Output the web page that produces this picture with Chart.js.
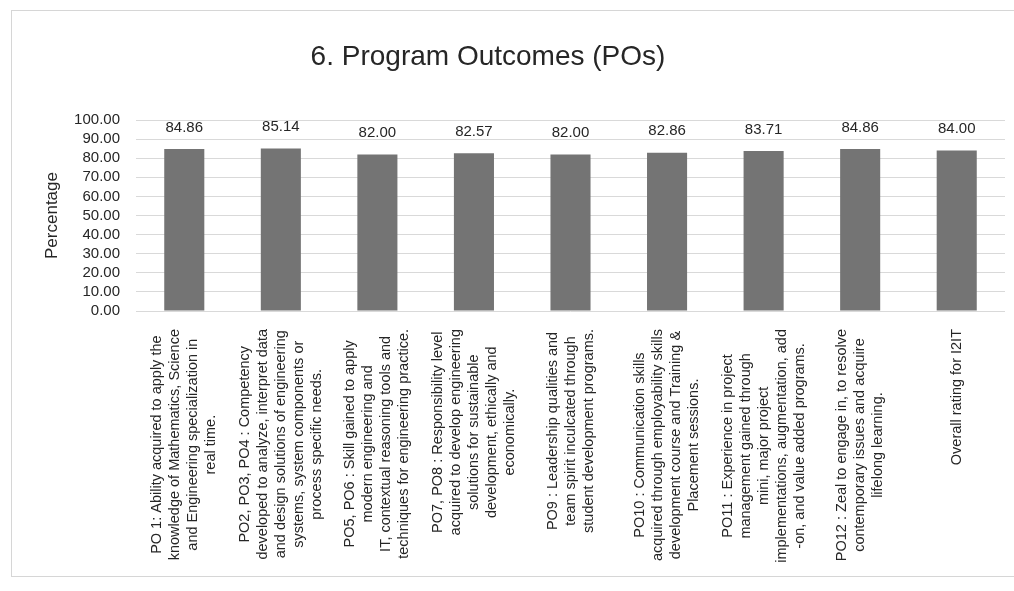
<!DOCTYPE html>
<html>
<head>
<meta charset="utf-8">
<title>6. Program Outcomes (POs)</title>
<script src="https://cdn.jsdelivr.net/npm/chart.js@4"></script>
<style>
    html, body { margin: 0; padding: 0; background: #ffffff; }
    #wrap { position: relative; width: 1014px; height: 591px; overflow: hidden; }
    #frame {
        position: absolute; left: 11px; top: 10px; width: 1010px; height: 567px;
        border: 1px solid #d6d6d6; box-sizing: border-box;
    }
    #chart-title {
        position: absolute; left: 0; top: 39px; width: 976px; text-align: center;
        font: 28px "Liberation Sans", Arial, sans-serif; color: #262626; line-height: 34px;
    }
    canvas { position: absolute; left: 0; top: 0; }
</style>
</head>
<body>
<div id="wrap">
    <div id="frame"></div>
    <canvas id="po-chart" width="1014" height="591"></canvas>
    <div id="chart-title">6. Program Outcomes (POs)</div>
</div>
<script>
// ============================================
// DATA
// ============================================
const categories = [
    ['PO 1: Ability acquired to apply the', 'knowledge of Mathematics, Science', 'and Engineering specialization in', 'real time.'],
    ['PO2, PO3, PO4 : Competency', 'developed to analyze, interpret data', 'and design solutions of engineering', 'systems, system components or', 'process specific needs.'],
    ['PO5, PO6 : Skill gained to apply', 'modern engineering and', 'IT, contextual reasoning tools and', 'techniques for engineering practice.'],
    ['PO7, PO8 : Responsibility level', 'acquired to develop engineering', 'solutions for sustainable', 'development, ethically and', 'economically.'],
    ['PO9 : Leadership qualities and', 'team spirit inculcated through', 'student development programs.'],
    ['PO10 : Communication skills', 'acquired through employability skills', 'development course and Training &', 'Placement sessions.'],
    ['PO11 : Experience in project', 'management gained through', 'mini, major project', 'implementations, augmentation, add', '-on, and value added programs.'],
    ['PO12 : Zeal to engage in, to resolve', 'contemporary issues and acquire', 'lifelong learning.'],
    ['Overall rating for I2IT']
];

const percentages = [84.86, 85.14, 82.00, 82.57, 82.00, 82.86, 83.71, 84.86, 84.00];

const yMin = 0;
const yMax = 100;
const yStep = 10;
const yAxisTitle = 'Percentage';

// ============================================
// STYLE
// ============================================
const FONT_FAMILY = '"Liberation Sans", Arial, sans-serif';
const TEXT_COLOR = '#262626';
const BAR_COLOR = '#747474';
const GRID_COLOR = '#d9d9d9';

// draws the value above each bar
const valueLabels = {
    id: 'valueLabels',
    afterDatasetsDraw(chart) {
        const ctx = chart.ctx;
        const meta = chart.getDatasetMeta(0);
        ctx.save();
        ctx.font = '15px ' + FONT_FAMILY;
        ctx.fillStyle = TEXT_COLOR;
        ctx.textAlign = 'center';
        ctx.textBaseline = 'bottom';
        meta.data.forEach((bar, i) => {
            const v = chart.data.datasets[0].data[i];
            ctx.fillText(v.toFixed(2), bar.x, bar.y - 14);
        });
        ctx.restore();
    }
};

// vertical category labels, lines centred on each other, block top-aligned under the axis
const verticalLabels = {
    id: 'verticalLabels',
    afterDraw(chart) {
        const ctx = chart.ctx;
        const xScale = chart.scales.x;
        const lineHeight = 18;
        const topGap = 18;
        ctx.save();
        ctx.font = '14.5px ' + FONT_FAMILY;
        ctx.fillStyle = TEXT_COLOR;
        ctx.textAlign = 'center';
        ctx.textBaseline = 'middle';
        chart.data.labels.forEach((lines, i) => {
            const x = xScale.getPixelForTick(i);
            const maxW = Math.max(...lines.map(l => ctx.measureText(l).width));
            ctx.save();
            ctx.translate(x, xScale.top + topGap + maxW / 2);
            ctx.rotate(-Math.PI / 2);
            lines.forEach((line, j) => {
                ctx.fillText(line, 0, (j - (lines.length - 1) / 2) * lineHeight);
            });
            ctx.restore();
        });
        ctx.restore();
    }
};

// ============================================
// CHART
// ============================================
new Chart(document.getElementById('po-chart'), {
    type: 'bar',
    data: {
        labels: categories,
        datasets: [{
            label: yAxisTitle,
            data: percentages,
            backgroundColor: BAR_COLOR,
            borderWidth: 0,
            categoryPercentage: 1,
            barPercentage: 0.415
        }]
    },
    options: {
        responsive: false,
        animation: false,
        layout: {
            padding: { top: 120, right: 9, bottom: 0, left: 0 }
        },
        plugins: {
            legend: { display: false },
            title: { display: false },
            tooltip: { enabled: false }
        },
        scales: {
            x: {
                grid: { display: false },
                border: { display: false },
                ticks: { display: false },
                afterFit: (scale) => { scale.height = 280; }
            },
            y: {
                min: yMin,
                max: yMax,
                ticks: {
                    stepSize: yStep,
                    autoSkip: false,
                    padding: 16,
                    color: TEXT_COLOR,
                    font: { family: FONT_FAMILY, size: 15 },
                    callback: (v) => Number(v).toFixed(2)
                },
                grid: {
                    color: GRID_COLOR,
                    drawTicks: false
                },
                border: { display: false },
                title: {
                    display: true,
                    text: yAxisTitle,
                    color: TEXT_COLOR,
                    font: { family: FONT_FAMILY, size: 17 },
                    padding: { top: 42, bottom: 0 }
                },
                afterFit: (scale) => { scale.width = 136; }
            }
        }
    },
    plugins: [valueLabels, verticalLabels]
});
</script>
</body>
</html>
